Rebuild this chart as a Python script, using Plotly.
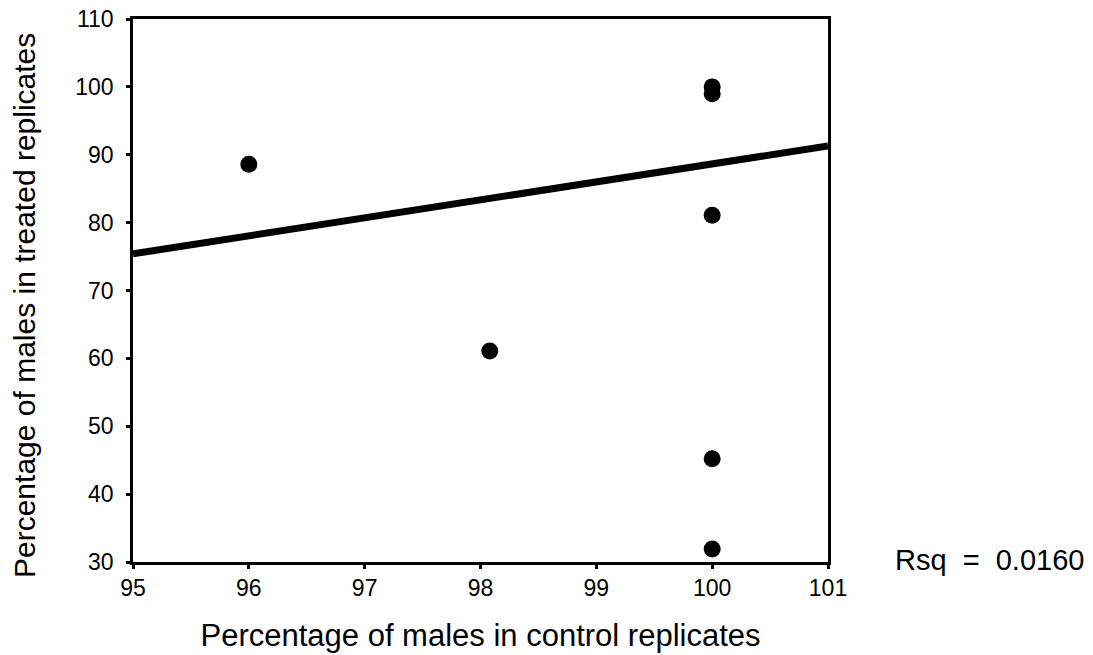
import plotly.graph_objects as go

# Data
control_pct = [96.0, 98.08, 100.0, 100.0, 100.0, 100.0, 100.0]
treated_pct = [88.6, 61.1, 100.0, 99.0, 81.1, 45.2, 31.9]

# Fitted regression line (as drawn in the reference)
fit_x = [95.0, 101.0]
fit_y = [75.4, 91.3]

x_ticks = [95, 96, 97, 98, 99, 100, 101]
y_ticks = [30, 40, 50, 60, 70, 80, 90, 100, 110]

FONT = "Liberation Sans, Arial, sans-serif"

fig = go.Figure()
fig.add_trace(go.Scatter(
    x=fit_x, y=fit_y, mode="lines",
    line=dict(color="black", width=7),
    showlegend=False, hoverinfo="skip"))
fig.add_trace(go.Scatter(
    x=control_pct, y=treated_pct, mode="markers",
    marker=dict(color="black", size=17, symbol="circle"),
    showlegend=False))

fig.update_layout(
    width=1093, height=655,
    margin=dict(l=133, r=265, t=19, b=93),
    paper_bgcolor="white", plot_bgcolor="white",
    font=dict(family=FONT, color="black"),
    xaxis=dict(
        range=[95, 101], tickvals=x_ticks, ticktext=[str(v) for v in x_ticks],
        showgrid=False, zeroline=False, showline=True, mirror=True,
        linecolor="black", linewidth=2.5, automargin=False,
        ticks="outside", ticklen=4, tickwidth=3, tickcolor="black",
        tickfont=dict(size=23, family=FONT), ticklabelstandoff=0,
        title=dict(text="Percentage of males in control replicates",
                   font=dict(size=31, family=FONT), standoff=24),
    ),
    yaxis=dict(
        range=[30, 110], tickvals=y_ticks, ticktext=[str(v) for v in y_ticks],
        showgrid=False, zeroline=False, showline=True, mirror=True,
        linecolor="black", linewidth=2.5, automargin=False,
        ticks="outside", ticklen=4, tickwidth=3, tickcolor="black",
        tickfont=dict(size=23, family=FONT), ticklabelstandoff=8,
    ),
    annotations=[
        dict(text="Percentage of males in treated replicates",
             xref="paper", yref="paper", x=-0.1554, y=0.4733,
             xanchor="center", yanchor="middle", textangle=-90,
             showarrow=False, font=dict(size=30, family=FONT, color="black")),
        dict(text="Rsq&nbsp;&nbsp;=&nbsp;&nbsp;0.0160", xref="paper", yref="paper",
             x=1.093, y=0.003, xanchor="left", yanchor="middle",
             showarrow=False, font=dict(size=29, family=FONT, color="black")),
    ],
)

fig.write_html("out.html")
